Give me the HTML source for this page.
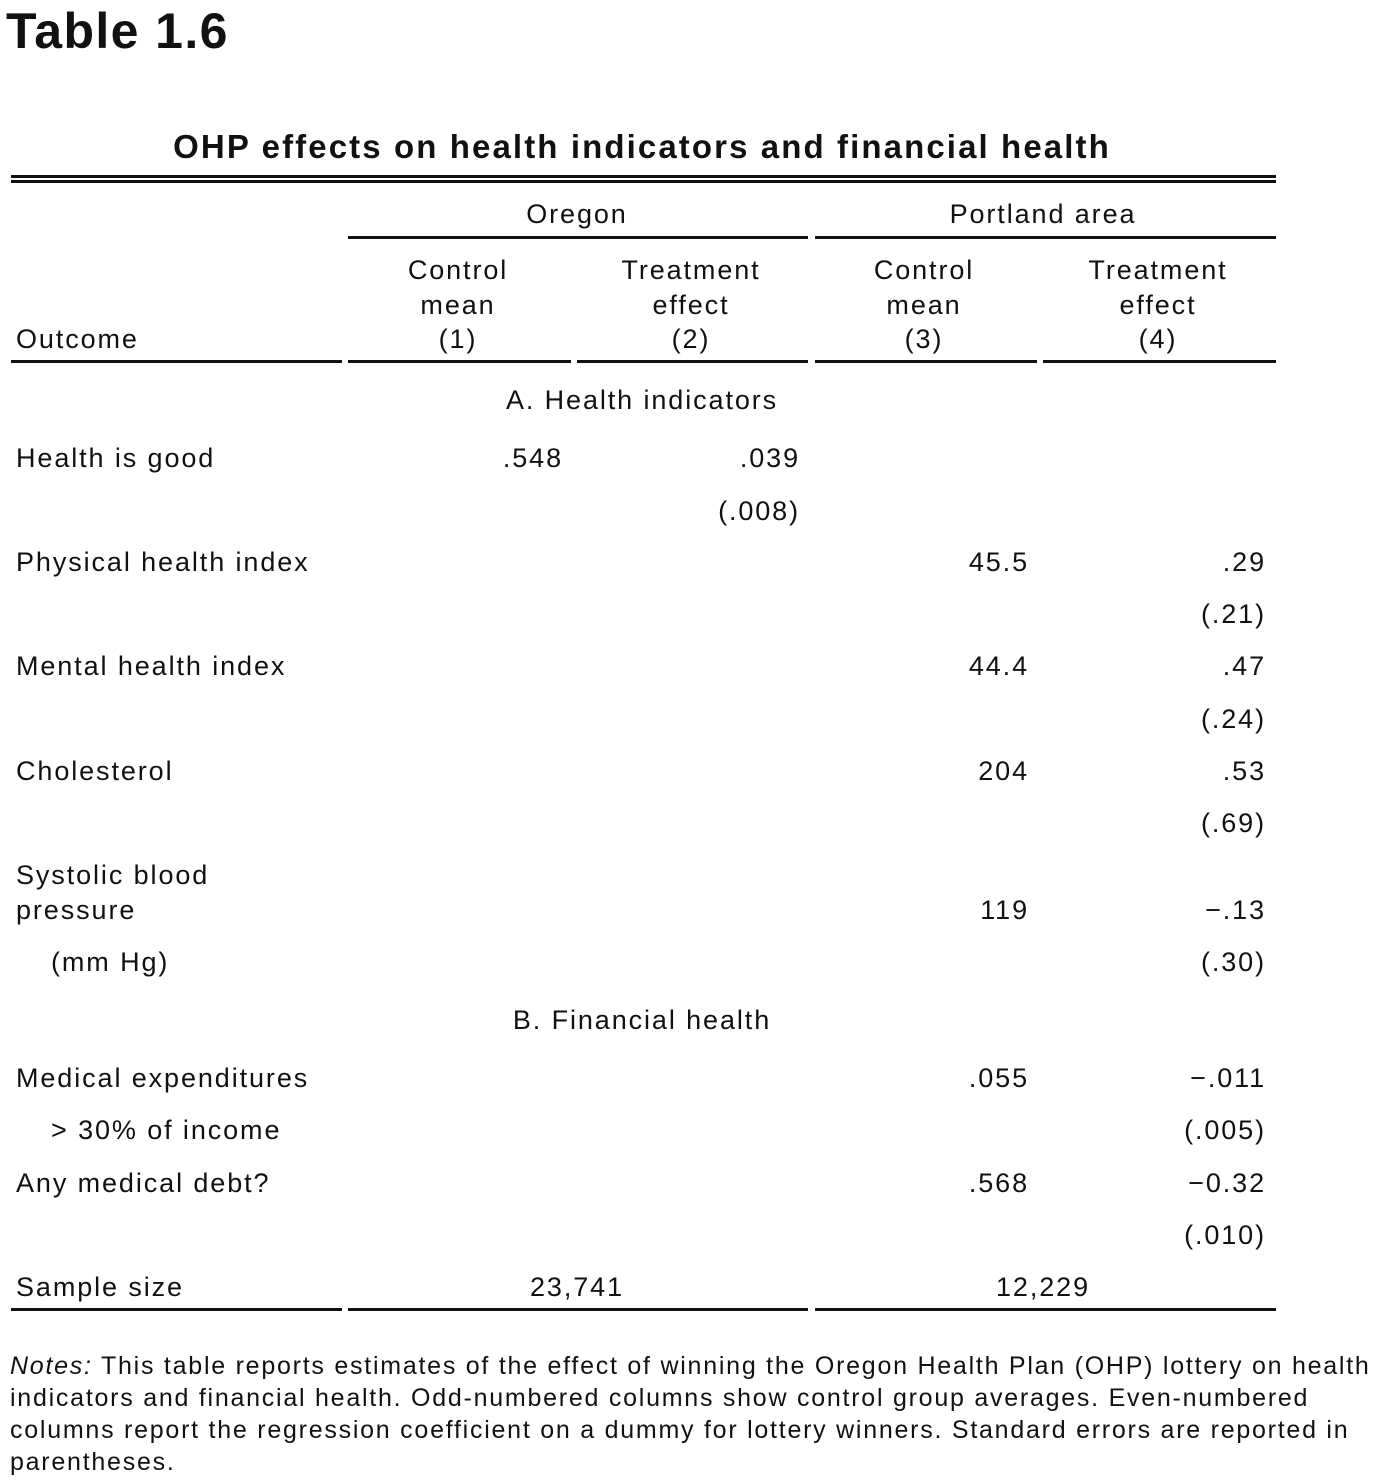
<!DOCTYPE html>
<html><head><meta charset="utf-8"><style>
body{margin:0;width:1386px;height:1482px;background:#fff;position:relative;font-family:"Liberation Sans",sans-serif;color:#111;overflow:hidden}
.t{position:absolute;font-size:27px;line-height:30px;white-space:nowrap;letter-spacing:1.9px}
.c{text-align:center;width:300px}
.l{position:absolute;background:#111;height:3px}
.n{position:absolute;left:10px;font-size:25px;line-height:32px;white-space:nowrap;letter-spacing:1.75px}
</style></head><body>
<div style="position:absolute;left:6px;top:2px;font-size:50px;font-weight:bold;letter-spacing:1.4px">Table 1.6</div>
<div style="position:absolute;left:0;width:1284px;text-align:center;top:128px;font-size:33px;font-weight:bold;letter-spacing:2.1px">OHP effects on health indicators and financial health</div>
<div class="l" style="left:11px;width:1265px;top:175px"></div>
<div class="l" style="left:11px;width:1265px;top:180px"></div>
<div class="t c" style="left:427px;top:199px">Oregon</div>
<div class="t c" style="left:893px;top:199px">Portland area</div>
<div class="l" style="left:348px;width:460px;top:236px"></div>
<div class="l" style="left:815px;width:461px;top:236px"></div>
<div class="t c" style="left:308px;top:253px;line-height:34.5px">Control<br>mean<br>(1)</div>
<div class="t c" style="left:541px;top:253px;line-height:34.5px">Treatment<br>effect<br>(2)</div>
<div class="t c" style="left:774px;top:253px;line-height:34.5px">Control<br>mean<br>(3)</div>
<div class="t c" style="left:1008px;top:253px;line-height:34.5px">Treatment<br>effect<br>(4)</div>
<div class="t" style="left:16px;top:324px">Outcome</div>
<div class="l" style="left:11px;width:331px;top:360px"></div>
<div class="l" style="left:348px;width:223px;top:360px"></div>
<div class="l" style="left:577px;width:231px;top:360px"></div>
<div class="l" style="left:815px;width:222px;top:360px"></div>
<div class="l" style="left:1043px;width:233px;top:360px"></div>
<div class="l" style="left:11px;width:331px;top:1308px"></div>
<div class="l" style="left:348px;width:460px;top:1308px"></div>
<div class="l" style="left:815px;width:461px;top:1308px"></div>
<div class="n" style="top:1350px"><i>Notes:</i> This table reports estimates of the effect of winning the Oregon Health Plan (OHP) lottery on health</div>
<div class="n" style="top:1382px">indicators and financial health. Odd-numbered columns show control group averages. Even-numbered</div>
<div class="n" style="top:1414px">columns report the regression coefficient on a dummy for lottery winners. Standard errors are reported in</div>
<div class="n" style="top:1446px">parentheses.</div>
<script>
const rowY=[400,458,511,562,614,666,719,771,823,875,910,962,1020,1078,1130,1183,1235];
const rowLabels=["","Health is good","","Physical health index","","Mental health index","","Cholesterol","","Systolic blood","pressure","(mm Hg)","","Medical expenditures","> 30% of income","Any medical debt?",""];
const indents=[0,0,0,0,0,0,0,0,0,0,0,1,0,0,1,0,0];
const col1=["",".548","","","","","","","","","","","","","","",""];
const col2=["",".039","(.008)","","","","","","","","","","","","","",""];
const col3=["","","","45.5","","44.4","","204","","","119","","",".055","",".568",""];
const col4=["","","",".29","(.21)",".47","(.24)",".53","(.69)","","\u2212.13","(.30)","","\u2212.011","(.005)","\u22120.32","(.010)"];
const sections={0:"A. Health indicators",12:"B. Financial health"};
const colRight=[563,800,1029,1266];
const b=document.body;
function add(txt,style,name){const d=document.createElement('div');d.className='t';d.textContent=txt;Object.assign(d.style,style);


b.appendChild(d);}
rowY.forEach((y,i)=>{
 const top=(y-15)+'px';
 if(sections[i]) add(sections[i],{left:'342px',width:'600px',textAlign:'center',top},'section-header');
 if(rowLabels[i]) add(rowLabels[i],{left:(indents[i]?51:16)+'px',top},'row-label');
 [col1,col2,col3,col4].forEach((c,j)=>{ if(c[i]) add(c[i],{left:(colRight[j]-200)+'px',width:'200px',textAlign:'right',top,letterSpacing:'1.9px',marginRight:'-1.9px'},'cell-col'+(j+1)); });
});
add("Sample size",{left:'16px',top:'1272px'},'sample-size-label');
add("23,741",{left:'427px',width:'300px',textAlign:'center',top:'1272px'},'sample-size-oregon');
add("12,229",{left:'893px',width:'300px',textAlign:'center',top:'1272px'},'sample-size-portland');
</script>
</body></html>
